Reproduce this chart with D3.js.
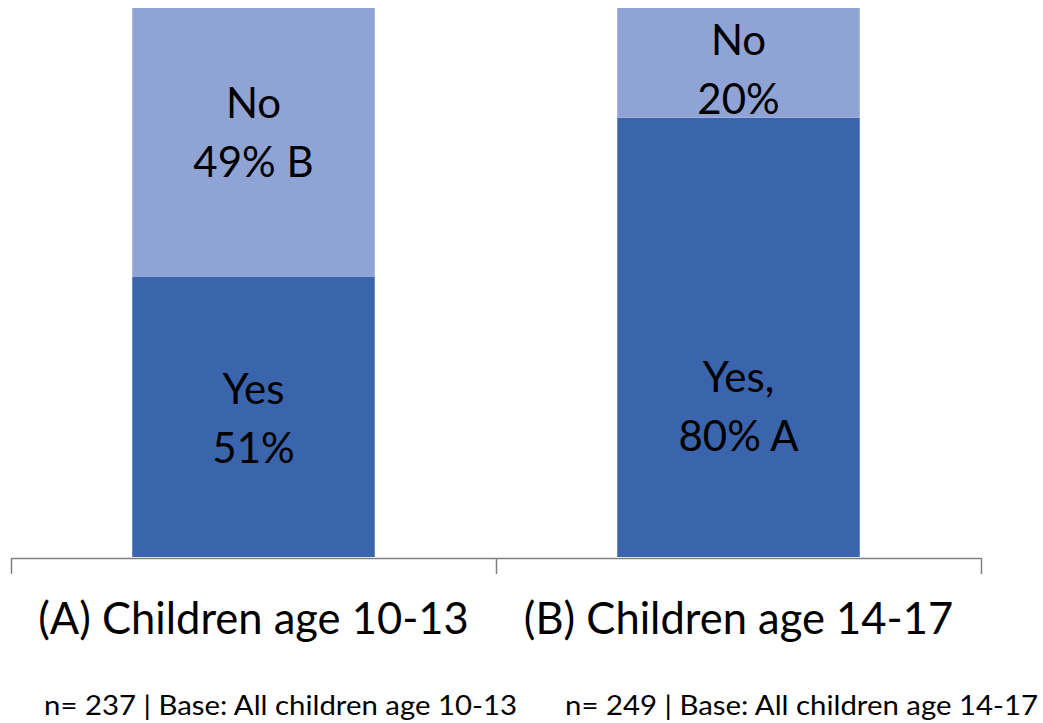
<!DOCTYPE html>
<html>
<head>
<meta charset="utf-8">
<script src="https://cdn.jsdelivr.net/npm/d3@7"></script>
<style>
  html, body { margin: 0; padding: 0; background: #fff; }
  svg { display: block; }
  text { font-family: Lato, "Open Sans", sans-serif; fill: #000; }
</style>
</head>
<body>
<svg id="chart" width="1043" height="723"></svg>
<script>
// ---- data ----
const categories = ["(A) Children age 10-13", "(B) Children age 14-17"];
const seriesNames = ["Yes", "No"];
const yesValues = [0.51, 0.80];
const noValues = [0.49, 0.20];
const yesLabels = [["Yes", "51%"], ["Yes,", "80% A"]];
const noLabels = [["No", "49% B"], ["No", "20%"]];
const footnotes = ["n= 237 | Base: All children age 10-13", "n= 249 | Base: All children age 14-17"];

// ---- layout / style ----
const W = 1043, H = 723;
const colors = { Yes: "#3A64AC", No: "#8FA4D5" };
const axisLeft = 11, axisRight = 981, baseY = 557, topY = 8;
// first-line baseline offset from segment centre (labels were hand-placed in source)
const labelShift = { Yes: [-13.5, 54.5], No: [-25, -8] };
const lineGap = 59;

const svg = d3.select("#chart");

const x = d3.scaleBand().domain(categories).range([axisLeft, axisRight])
  .paddingInner(0.5).paddingOuter(0.25);
const y = d3.scaleLinear().domain([0, 1]).range([baseY, topY]);

const rows = categories.map((c, i) => ({ cat: c, Yes: yesValues[i], No: noValues[i] }));
const stacked = d3.stack().keys(seriesNames)(rows);

const labelsBySeries = { Yes: yesLabels, No: noLabels };

const g = svg.append("g");
stacked.forEach(layer => {
  const key = layer.key;
  g.selectAll(null).data(layer).join("rect")
    .attr("x", d => x(d.data.cat))
    .attr("width", x.bandwidth())
    .attr("y", d => y(d[1]))
    .attr("height", d => y(d[0]) - y(d[1]))
    .attr("fill", colors[key]);

  layer.forEach((d, i) => {
    const cx = x(d.data.cat) + x.bandwidth() / 2;
    const cy = (y(d[0]) + y(d[1])) / 2 + labelShift[key][i];
    const t = g.append("text")
      .attr("text-anchor", "middle")
      .attr("font-size", 42);
    labelsBySeries[key][i].forEach((line, j) => {
      t.append("tspan").attr("x", cx).attr("y", cy + j * lineGap).text(line);
    });
  });
});

// axis
const xAxisScale = d3.scaleLinear().domain([0, categories.length]).range([axisLeft, axisRight]);
const axis = d3.axisBottom(xAxisScale)
  .tickValues(d3.range(0, categories.length + 1))
  .tickSize(16).tickSizeOuter(0).tickFormat("");
const ag = svg.append("g").attr("transform", `translate(0,${baseY + 1})`).call(axis);
ag.selectAll("path, line").attr("stroke", "#808080").attr("stroke-width", 1.5);

// category labels
svg.selectAll(".cat").data(categories).join("text")
  .attr("class", "cat")
  .attr("x", d => x(d) + x.bandwidth() / 2)
  .attr("y", 634)
  .attr("text-anchor", "middle")
  .attr("font-size", 43.5)
  .text(d => d);

// footnotes
const footX = [44, 565];
svg.selectAll(".foot").data(footnotes).join("text")
  .attr("class", "foot")
  .attr("x", (d, i) => footX[i])
  .attr("y", 715)
  .attr("font-size", 26)
  .attr("textLength", 473)
  .attr("lengthAdjust", "spacingAndGlyphs")
  .text(d => d);
</script>
</body>
</html>
